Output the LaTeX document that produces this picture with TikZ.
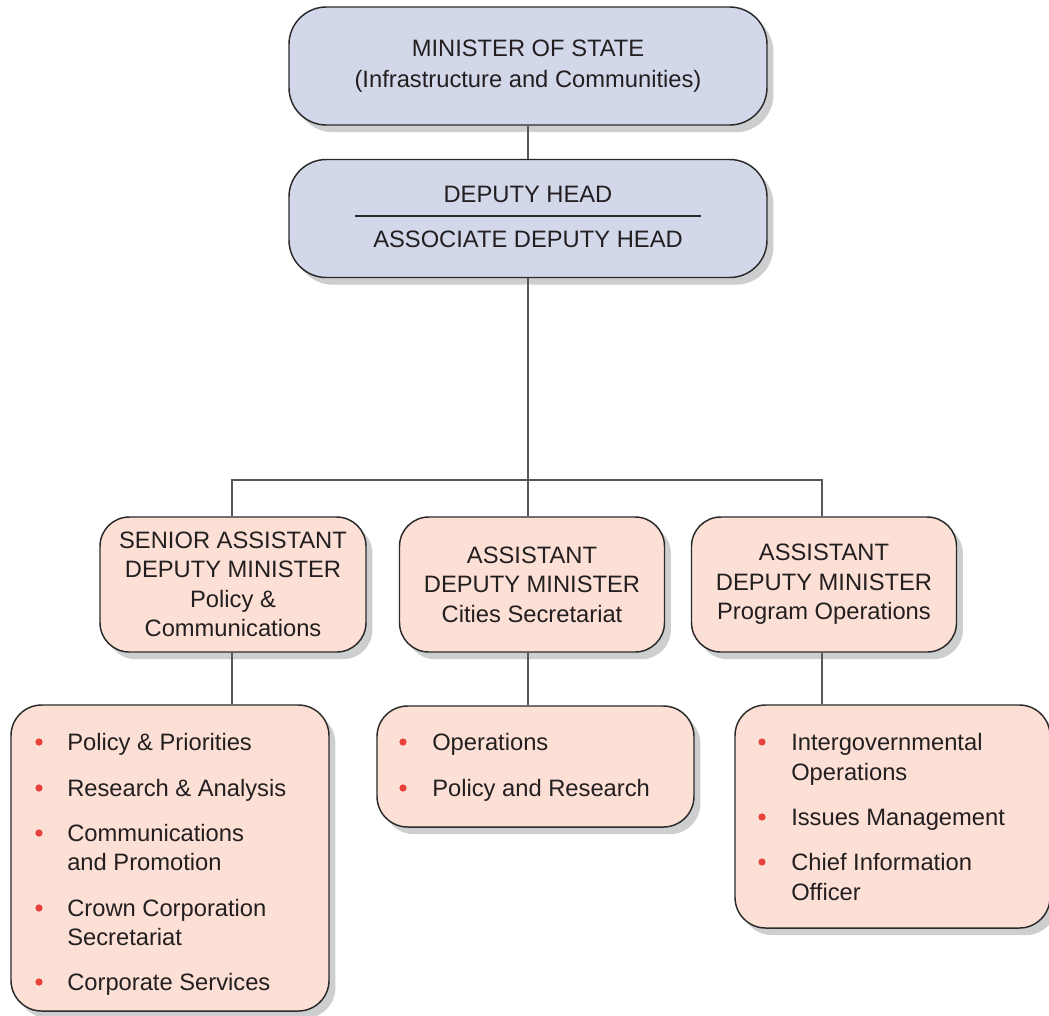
\documentclass[tikz,border=0pt]{standalone}
\usepackage{fontspec}
\setmainfont{Liberation Sans}
\usetikzlibrary{shadows}
\definecolor{bluefill}{HTML}{D3D7EA}
\definecolor{pinkfill}{HTML}{FCDFD5}
\definecolor{bulletred}{HTML}{E8403A}
\definecolor{edgec}{HTML}{2B2A2A}
\definecolor{linec}{HTML}{58585A}
\definecolor{txt}{HTML}{231F20}
\definecolor{shadowc}{HTML}{CDCECF}
\begin{document}
\begin{tikzpicture}[x=0.75pt,y=-0.75pt,
  box/.style={draw=edgec, line width=1.1pt, inner sep=0pt, text=txt, align=center,
    drop shadow={shadow xshift=4.8pt,shadow yshift=-5.4pt,fill=shadowc,opacity=1}},
  topbox/.style={box, fill=bluefill, rounded corners=28pt, minimum width=358.5pt, minimum height=88.5pt,
    font=\fontsize{17.8}{23.25}\selectfont},
  midbox/.style={box, fill=pinkfill, rounded corners=22pt, minimum width=198.75pt, minimum height=101.25pt,
    font=\fontsize{17.8}{22.1}\selectfont},
  listbox/.style={box, fill=pinkfill, rounded corners=23pt},
  ln/.style={text=txt, inner sep=0pt, anchor=base west, font=\fontsize{17.8}{22}\selectfont},
  hd/.style={text=txt, inner sep=0pt, anchor=base, font=\fontsize{17.8}{22}\selectfont},
  dot/.style={circle, fill=bulletred, inner sep=0pt, minimum size=5.4pt},
  conn/.style={draw=linec, line width=1.3pt}
]
\useasboundingbox (0,0) rectangle (1049,1015);

% top boxes
\node[topbox] (minister) at (528,66) {MINISTER OF STATE\\(Infrastructure and Communities)};
\node[topbox] (deputy) at (528,218.5) {};
\node[hd] (dh1) at (528,202.5) {DEPUTY HEAD};
\node[hd] (dh2) at (528,247.5) {ASSOCIATE DEPUTY HEAD};
\coordinate (ruleL) at (355,216);
\coordinate (ruleR) at (701,216);
\draw[draw=edgec, line width=1.1pt] (ruleL) -- (ruleR);

% level 3
\node[midbox, minimum width=199.5pt] (sadm) at (233,584.5) {SENIOR ASSISTANT\\DEPUTY MINISTER\\Policy \&\\Communications};
\node[midbox] (admc) at (532,584.5) {ASSISTANT\\DEPUTY MINISTER\\Cities Secretariat};
\node[midbox] (admp) at (824,584.5) {ASSISTANT\\DEPUTY MINISTER\\Program Operations};

% level 4
\node[listbox, minimum width=238.5pt, minimum height=229.5pt] (listL) at (170,858) {};
\node[listbox, minimum width=237.75pt, minimum height=90.75pt] (listM) at (535.5,766.5) {};
\node[listbox, minimum width=236.25pt, minimum height=167.25pt] (listR) at (892.5,816.5) {};

% connectors
\coordinate (busL) at (232,480);
\coordinate (busM) at (528,480);
\coordinate (busR) at (822,480);
\draw[conn] (minister.south) -- (deputy.north);
\draw[conn] (deputy.south) -- (busM);
\draw[conn] (busL |- sadm.north) -- (busL) -- (busR) -- (busR |- admp.north);
\draw[conn] (busM) -- (busM |- admc.north);
\draw[conn] (busL |- sadm.south) -- (busL |- listL.north);
\draw[conn] (busM |- admc.south) -- (busM |- listM.north);
\draw[conn] (busR |- admp.south) -- (busR |- listR.north);

% left list
\node[dot] (bl1) at (39,742) {};
\node[ln] (tl1) at (67,750.5) {Policy \& Priorities};
\node[dot] (bl2) at (39,788) {};
\node[ln] (tl2) at (67,796.5) {Research \& Analysis};
\node[dot] (bl3) at (39,833) {};
\node[ln] (tl3) at (67,841.5) {Communications};
\node[ln] (tl3b) at (67,870.5) {and Promotion};
\node[dot] (bl4) at (39,908) {};
\node[ln] (tl4) at (67,916.5) {Crown Corporation};
\node[ln] (tl4b) at (67,945.5) {Secretariat};
\node[dot] (bl5) at (39,982) {};
\node[ln] (tl5) at (67,990.5) {Corporate Services};

% middle list
\node[dot] (bm1) at (403,742) {};
\node[ln] (tm1) at (432,750.5) {Operations};
\node[dot] (bm2) at (403,788) {};
\node[ln] (tm2) at (432,796.5) {Policy and Research};

% right list
\node[dot] (br1) at (762,742) {};
\node[ln] (tr1) at (791,750.5) {Intergovernmental};
\node[ln] (tr1b) at (791,780.5) {Operations};
\node[dot] (br2) at (762,817) {};
\node[ln] (tr2) at (791,825.5) {Issues Management};
\node[dot] (br3) at (762,862) {};
\node[ln] (tr3) at (791,870.5) {Chief Information};
\node[ln] (tr3b) at (791,900.5) {Officer};
\end{tikzpicture}
\end{document}
